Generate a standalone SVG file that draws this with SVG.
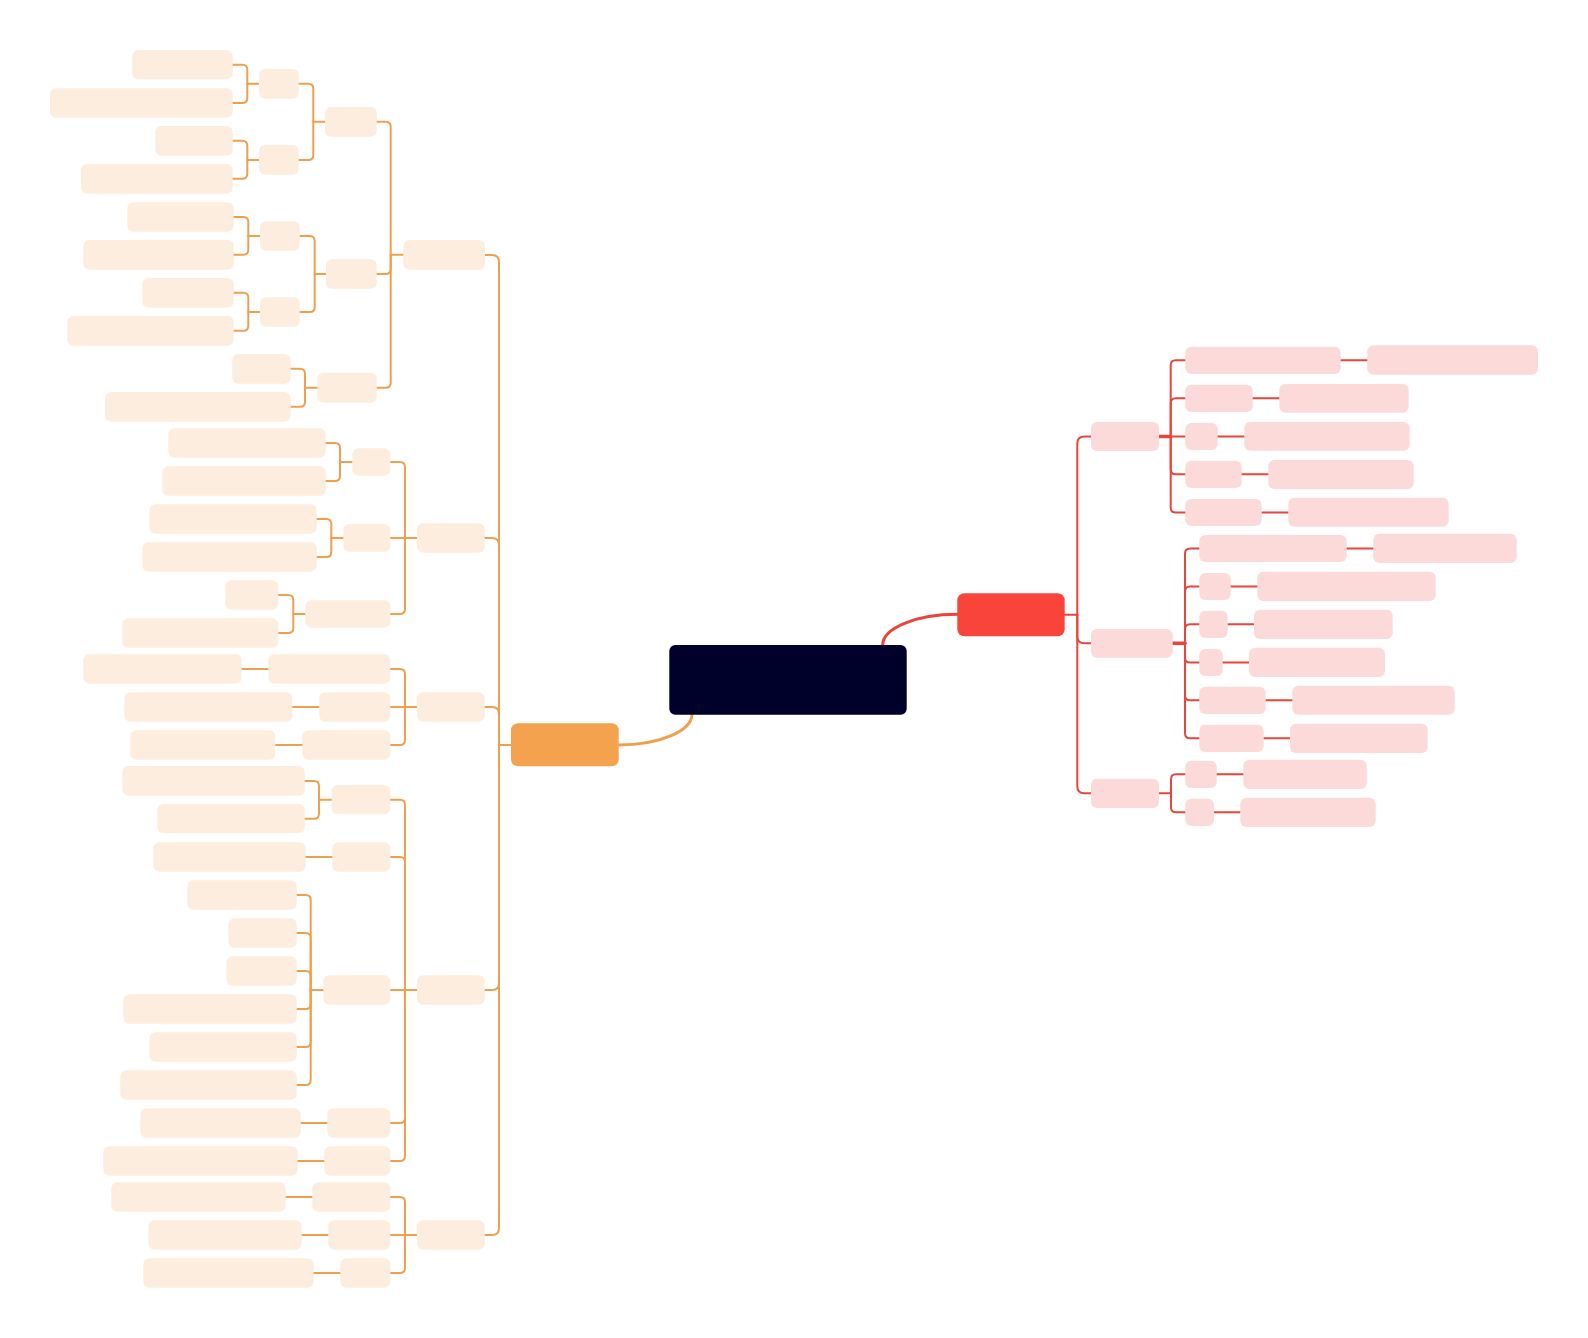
<svg xmlns="http://www.w3.org/2000/svg" width="1588" height="1338" viewBox="0 0 1588 1338">
<style>
.lo{fill:#FDEDDE}
.lp{fill:#FDDADA}
.co{fill:none;stroke:#EFA04F;stroke-width:2;stroke-linecap:round}
.cr{fill:none;stroke:#E8453C;stroke-width:2;stroke-linecap:round}
.thick{stroke-width:3.5}
.main{stroke-width:3}
</style>
<rect width="1588" height="1338" fill="#FFFFFF"/>
<g id="connectors">
<g id="conn-orange" class="co">
<path class="main" d="M619,745 A73,31 0 0 0 692,714"/>
<path d="M511,745 H499"/>
<path d="M499,745 V262 Q499,255 492,255 H485"/>
<path d="M499,745 V545 Q499,538 492,538 H485"/>
<path d="M499,745 V714 Q499,707 492,707 H485"/>
<path d="M499,745 V983 Q499,990 492,990 H485"/>
<path d="M499,745 V1228 Q499,1235 492,1235 H485"/>
<path d="M403.3,254.8 H390.7"/>
<path d="M390.7,254.8 V126.7 Q390.7,121.7 385.7,121.7 H376.7"/>
<path d="M390.7,254.8 V269 Q390.7,274 385.7,274 H376.7"/>
<path d="M390.7,254.8 V382.7 Q390.7,387.7 385.7,387.7 H376.7"/>
<path d="M325,121.7 H313.3"/>
<path d="M313.3,121.7 V88.8 Q313.3,83.8 308.3,83.8 H298.7"/>
<path d="M313.3,121.7 V155 Q313.3,160 308.3,160 H298.7"/>
<path d="M259,83.8 H247.3"/>
<path d="M247.3,83.8 V69.7 Q247.3,64.7 242.3,64.7 H232.7"/>
<path d="M247.3,83.8 V98 Q247.3,103 242.3,103 H232.7"/>
<path d="M259,160 H247.3"/>
<path d="M247.3,160 V145.8 Q247.3,140.8 242.3,140.8 H232.7"/>
<path d="M247.3,160 V173.8 Q247.3,178.8 242.3,178.8 H232.7"/>
<path d="M326,274 H314.7"/>
<path d="M314.7,274 V241 Q314.7,236 309.7,236 H299.7"/>
<path d="M314.7,274 V307 Q314.7,312 309.7,312 H299.7"/>
<path d="M260,236 H248.3"/>
<path d="M248.3,236 V222 Q248.3,217 243.3,217 H233.7"/>
<path d="M248.3,236 V249.8 Q248.3,254.8 243.3,254.8 H233.7"/>
<path d="M260,312 H248.3"/>
<path d="M248.3,312 V297.8 Q248.3,292.8 243.3,292.8 H233.7"/>
<path d="M248.3,312 V325.8 Q248.3,330.8 243.3,330.8 H233.7"/>
<path d="M317.3,387.7 H305"/>
<path d="M305,387.7 V373.8 Q305,368.8 300,368.8 H290.7"/>
<path d="M305,387.7 V401.8 Q305,406.8 300,406.8 H290.7"/>
<path d="M417,538 H405"/>
<path d="M405,538 V467 Q405,462 400,462 H390.3"/>
<path d="M405,538 H390.3"/>
<path d="M405,538 V609 Q405,614 400,614 H390.3"/>
<path d="M352.3,462 H340"/>
<path d="M340,462 V448 Q340,443 335,443 H325.7"/>
<path d="M340,462 V476 Q340,481 335,481 H325.7"/>
<path d="M343.3,538 H331.3"/>
<path d="M331.3,538 V524 Q331.3,519 326.3,519 H316.7"/>
<path d="M331.3,538 V552 Q331.3,557 326.3,557 H316.7"/>
<path d="M305.3,614 H293.3"/>
<path d="M293.3,614 V600 Q293.3,595 288.3,595 H278.3"/>
<path d="M293.3,614 V628 Q293.3,633 288.3,633 H278.3"/>
<path d="M417,707 H405"/>
<path d="M405,707 V674 Q405,669 400,669 H390.3"/>
<path d="M405,707 H390.3"/>
<path d="M405,707 V740 Q405,745 400,745 H390.3"/>
<path d="M268.3,669 H241.7"/>
<path d="M319.3,707 H292.3"/>
<path d="M302.3,745 H275.3"/>
<path d="M417,990 H405"/>
<path d="M405,990 V804.7 Q405,799.7 400,799.7 H390.3"/>
<path d="M405,990 V862 Q405,857 400,857 H390.3"/>
<path d="M405,990 H390.3"/>
<path d="M405,990 V1118 Q405,1123 400,1123 H390.3"/>
<path d="M405,990 V1156 Q405,1161 400,1161 H390.3"/>
<path d="M331.7,799.7 H319"/>
<path d="M319,799.7 V786 Q319,781 314,781 H304.7"/>
<path d="M319,799.7 V813.7 Q319,818.7 314,818.7 H304.7"/>
<path d="M332.3,857 H305.7"/>
<path d="M323.3,990 H310.7"/>
<path d="M310.7,990 V900 Q310.7,895 305.7,895 H296.7"/>
<path d="M310.7,990 V938 Q310.7,933 305.7,933 H296.7"/>
<path d="M310.7,990 V976 Q310.7,971 305.7,971 H296.7"/>
<path d="M310.7,990 V1004 Q310.7,1009 305.7,1009 H296.7"/>
<path d="M310.7,990 V1042 Q310.7,1047 305.7,1047 H296.7"/>
<path d="M310.7,990 V1080 Q310.7,1085 305.7,1085 H296.7"/>
<path d="M327.3,1123 H300.7"/>
<path d="M324.3,1161 H297.7"/>
<path d="M417,1235 H405"/>
<path d="M405,1235 V1202 Q405,1197 400,1197 H390.3"/>
<path d="M405,1235 H390.3"/>
<path d="M405,1235 V1268 Q405,1273 400,1273 H390.3"/>
<path d="M312.3,1197 H285.7"/>
<path d="M328.3,1235 H301.7"/>
<path d="M340.3,1273 H313.7"/>
</g>
<g id="conn-red" class="cr">
<path class="main" d="M882.7,645 A74.6,30.7 0 0 1 957.3,614.3"/>
<path d="M1064.7,614.8 H1077.3"/>
<path d="M1077.3,614.8 V443.5 Q1077.3,436.5 1084.3,436.5 H1091"/>
<path d="M1077.3,614.8 V636.3 Q1077.3,643.3 1084.3,643.3 H1091"/>
<path d="M1077.3,614.8 V786.3 Q1077.3,793.3 1084.3,793.3 H1091"/>
<path class="thick" d="M1159,436.5 H1170.7"/>
<path d="M1170.7,436.5 V365.3 Q1170.7,360.3 1175.7,360.3 H1185.3"/>
<path d="M1170.7,436.5 V403.3 Q1170.7,398.3 1175.7,398.3 H1185.3"/>
<path d="M1170.7,436.5 H1185.3"/>
<path d="M1170.7,436.5 V469.3 Q1170.7,474.3 1175.7,474.3 H1185.3"/>
<path d="M1170.7,436.5 V507.5 Q1170.7,512.5 1175.7,512.5 H1185.3"/>
<path d="M1340.7,360.3 H1367.3"/>
<path d="M1252.7,398.3 H1279.3"/>
<path d="M1217.7,436.5 H1244.3"/>
<path d="M1241.7,474.3 H1268.3"/>
<path d="M1261.7,512.5 H1288.3"/>
<path class="thick" d="M1172.7,643.3 H1185"/>
<path d="M1185,643.3 V553.5 Q1185,548.5 1190,548.5 H1199.3"/>
<path d="M1185,643.3 V591.5 Q1185,586.5 1190,586.5 H1199.3"/>
<path d="M1185,643.3 V629.3 Q1185,624.3 1190,624.3 H1199.3"/>
<path d="M1185,643.3 V657.5 Q1185,662.5 1190,662.5 H1199.3"/>
<path d="M1185,643.3 V695.3 Q1185,700.3 1190,700.3 H1199.3"/>
<path d="M1185,643.3 V733.3 Q1185,738.3 1190,738.3 H1199.3"/>
<path d="M1346.7,548.5 H1373.3"/>
<path d="M1230.7,586.5 H1257.3"/>
<path d="M1227.7,624.3 H1254"/>
<path d="M1222.7,662.5 H1249"/>
<path d="M1265.7,700.3 H1292.3"/>
<path d="M1263.7,738.3 H1290"/>
<path d="M1159,793.3 H1171"/>
<path d="M1171,793.3 V779.3 Q1171,774.3 1176,774.3 H1185.3"/>
<path d="M1171,793.3 V807.3 Q1171,812.3 1176,812.3 H1185.3"/>
<path d="M1216.7,774.3 H1243.3"/>
<path d="M1214,812.3 H1240.3"/>
</g>
</g>
<g id="nodes">
<g id="n-central"><rect x="669.3" y="645" width="237.4" height="69.7" rx="6" fill="#00012A"/></g>
<g id="n-orange"><rect x="511" y="723.3" width="107.7" height="43" rx="7" fill="#F4A24D"/></g>
<g id="n-red"><rect x="957.3" y="593.3" width="107.4" height="43" rx="7" fill="#F9443B"/></g>
<g id="n-a1"><rect class="lo" x="132.3" y="50" width="100.4" height="29.3" rx="6"/></g>
<g id="n-a2"><rect class="lo" x="50" y="88.3" width="182.7" height="29.4" rx="6"/></g>
<g id="n-a3"><rect class="lo" x="155.3" y="126" width="77.4" height="29.7" rx="6"/></g>
<g id="n-a4"><rect class="lo" x="81" y="164" width="151.7" height="29.7" rx="6"/></g>
<g id="n-b1"><rect class="lo" x="259" y="69" width="39.7" height="29.7" rx="6"/></g>
<g id="n-b2"><rect class="lo" x="259" y="145" width="39.7" height="29.7" rx="6"/></g>
<g id="n-c1"><rect class="lo" x="325" y="106.7" width="51.7" height="30" rx="6"/></g>
<g id="n-a5"><rect class="lo" x="127.3" y="202.3" width="106.4" height="29.4" rx="6"/></g>
<g id="n-a6"><rect class="lo" x="83.3" y="240" width="150.4" height="29.7" rx="6"/></g>
<g id="n-a7"><rect class="lo" x="142.3" y="278" width="91.4" height="29.7" rx="6"/></g>
<g id="n-a8"><rect class="lo" x="67.3" y="316" width="166.4" height="29.7" rx="6"/></g>
<g id="n-b3"><rect class="lo" x="260" y="221.3" width="39.7" height="29.4" rx="6"/></g>
<g id="n-b4"><rect class="lo" x="260" y="297.3" width="39.7" height="29.4" rx="6"/></g>
<g id="n-c2"><rect class="lo" x="326" y="259.3" width="50.7" height="29.4" rx="6"/></g>
<g id="n-d1"><rect class="lo" x="403.3" y="240" width="81.7" height="29.7" rx="6"/></g>
<g id="n-a9"><rect class="lo" x="232.3" y="354" width="58.4" height="29.7" rx="6"/></g>
<g id="n-a10"><rect class="lo" x="105" y="392" width="185.7" height="29.7" rx="6"/></g>
<g id="n-c3"><rect class="lo" x="317.3" y="372.7" width="59.4" height="30" rx="6"/></g>
<g id="n-e1"><rect class="lo" x="168.3" y="428.3" width="157.4" height="29.4" rx="6"/></g>
<g id="n-e2"><rect class="lo" x="162.3" y="466.3" width="163.4" height="29.4" rx="6"/></g>
<g id="n-f1"><rect class="lo" x="352.3" y="448.3" width="38" height="27.4" rx="6"/></g>
<g id="n-e3"><rect class="lo" x="149.3" y="504.3" width="167.4" height="29.4" rx="6"/></g>
<g id="n-e4"><rect class="lo" x="142.3" y="542.3" width="174.4" height="29.4" rx="6"/></g>
<g id="n-f2"><rect class="lo" x="343.3" y="524" width="47" height="27.7" rx="6"/></g>
<g id="n-e5"><rect class="lo" x="225.3" y="580.3" width="53" height="29.4" rx="6"/></g>
<g id="n-e6"><rect class="lo" x="122.3" y="618.3" width="156" height="29.4" rx="6"/></g>
<g id="n-f3"><rect class="lo" x="305.3" y="600.3" width="85" height="27.4" rx="6"/></g>
<g id="n-d2"><rect class="lo" x="417" y="523.3" width="67.7" height="29.4" rx="6"/></g>
<g id="n-g1"><rect class="lo" x="83.3" y="654.3" width="158.4" height="29.4" rx="6"/></g>
<g id="n-h1"><rect class="lo" x="268.3" y="654.3" width="122" height="29.4" rx="6"/></g>
<g id="n-g2"><rect class="lo" x="124.3" y="692.3" width="168" height="29.4" rx="6"/></g>
<g id="n-h2"><rect class="lo" x="319.3" y="692.3" width="71" height="29.4" rx="6"/></g>
<g id="n-g3"><rect class="lo" x="130.3" y="730.3" width="145" height="29.4" rx="6"/></g>
<g id="n-h3"><rect class="lo" x="302.3" y="730.3" width="88" height="29.4" rx="6"/></g>
<g id="n-d3"><rect class="lo" x="417" y="692.3" width="67.7" height="29.4" rx="6"/></g>
<g id="n-i1"><rect class="lo" x="122.3" y="766" width="182.4" height="29.7" rx="6"/></g>
<g id="n-i2"><rect class="lo" x="157.3" y="804" width="147.4" height="29.3" rx="6"/></g>
<g id="n-j1"><rect class="lo" x="331.7" y="785" width="58.6" height="29.3" rx="6"/></g>
<g id="n-i3"><rect class="lo" x="153.3" y="842.3" width="152.4" height="29.4" rx="6"/></g>
<g id="n-j2"><rect class="lo" x="332.3" y="842.3" width="58" height="29.4" rx="6"/></g>
<g id="n-k1"><rect class="lo" x="187.3" y="880.3" width="109.4" height="29.4" rx="6"/></g>
<g id="n-k2"><rect class="lo" x="228.3" y="918.3" width="68.4" height="29.4" rx="6"/></g>
<g id="n-k3"><rect class="lo" x="226.3" y="956.3" width="70.4" height="29.4" rx="6"/></g>
<g id="n-k4"><rect class="lo" x="123.3" y="994.3" width="173.4" height="29.4" rx="6"/></g>
<g id="n-k5"><rect class="lo" x="149.3" y="1032.3" width="147.4" height="29.4" rx="6"/></g>
<g id="n-k6"><rect class="lo" x="120.3" y="1070.3" width="176.4" height="29.4" rx="6"/></g>
<g id="n-j3"><rect class="lo" x="323.3" y="975.3" width="67" height="29.4" rx="6"/></g>
<g id="n-d4"><rect class="lo" x="417" y="975.3" width="67.7" height="29.4" rx="6"/></g>
<g id="n-l1"><rect class="lo" x="140.3" y="1108.3" width="160.4" height="29.4" rx="6"/></g>
<g id="n-j4"><rect class="lo" x="327.3" y="1108.3" width="63" height="29.4" rx="6"/></g>
<g id="n-l2"><rect class="lo" x="103.3" y="1146.3" width="194.4" height="29.4" rx="6"/></g>
<g id="n-j5"><rect class="lo" x="324.3" y="1146.3" width="66" height="29.4" rx="6"/></g>
<g id="n-m1"><rect class="lo" x="111.3" y="1182.3" width="174.4" height="29.4" rx="6"/></g>
<g id="n-n1"><rect class="lo" x="312.3" y="1182.3" width="78" height="29.4" rx="6"/></g>
<g id="n-m2"><rect class="lo" x="148.3" y="1220.3" width="153.4" height="29.4" rx="6"/></g>
<g id="n-n2"><rect class="lo" x="328.3" y="1220.3" width="62" height="29.4" rx="6"/></g>
<g id="n-m3"><rect class="lo" x="143.3" y="1258.3" width="170.4" height="29.4" rx="6"/></g>
<g id="n-n3"><rect class="lo" x="340.3" y="1258.3" width="50" height="29.4" rx="6"/></g>
<g id="n-d5"><rect class="lo" x="417" y="1220.3" width="67.7" height="29.4" rx="6"/></g>
<g id="n-r1"><rect class="lp" x="1091" y="422" width="68" height="29" rx="6"/></g>
<g id="n-r2"><rect class="lp" x="1091" y="629" width="81.7" height="28.7" rx="6"/></g>
<g id="n-r3"><rect class="lp" x="1091" y="778.7" width="68" height="29.3" rx="6"/></g>
<g id="n-s1"><rect class="lp" x="1185.3" y="346.7" width="155.4" height="27.3" rx="6"/></g>
<g id="n-t1"><rect class="lp" x="1367.3" y="345.3" width="170.7" height="29.4" rx="6"/></g>
<g id="n-s2"><rect class="lp" x="1185.3" y="384.7" width="67.4" height="27.3" rx="6"/></g>
<g id="n-t2"><rect class="lp" x="1279.3" y="384" width="129.4" height="28.7" rx="6"/></g>
<g id="n-s3"><rect class="lp" x="1185.3" y="423" width="32.4" height="27" rx="6"/></g>
<g id="n-t3"><rect class="lp" x="1244.3" y="422" width="165.4" height="28.7" rx="6"/></g>
<g id="n-s4"><rect class="lp" x="1185.3" y="460.7" width="56.4" height="27.3" rx="6"/></g>
<g id="n-t4"><rect class="lp" x="1268.3" y="460" width="145.4" height="29" rx="6"/></g>
<g id="n-s5"><rect class="lp" x="1185.3" y="499" width="76.4" height="27" rx="6"/></g>
<g id="n-t5"><rect class="lp" x="1288.3" y="497.7" width="160.4" height="29" rx="6"/></g>
<g id="n-u1"><rect class="lp" x="1199.3" y="535" width="147.4" height="27" rx="6"/></g>
<g id="n-v1"><rect class="lp" x="1373.3" y="533.7" width="143.4" height="29.3" rx="6"/></g>
<g id="n-u2"><rect class="lp" x="1199.3" y="573" width="31.4" height="27" rx="6"/></g>
<g id="n-v2"><rect class="lp" x="1257.3" y="571.7" width="178.4" height="29.3" rx="6"/></g>
<g id="n-u3"><rect class="lp" x="1199.3" y="610.7" width="28.4" height="27.3" rx="6"/></g>
<g id="n-v3"><rect class="lp" x="1254" y="609.7" width="138.7" height="29.3" rx="6"/></g>
<g id="n-u4"><rect class="lp" x="1199.3" y="649" width="23.4" height="27" rx="6"/></g>
<g id="n-v4"><rect class="lp" x="1249" y="647.7" width="136" height="29.3" rx="6"/></g>
<g id="n-u5"><rect class="lp" x="1199.3" y="686.7" width="66.4" height="27.3" rx="6"/></g>
<g id="n-v5"><rect class="lp" x="1292.3" y="685.7" width="162.4" height="29" rx="6"/></g>
<g id="n-u6"><rect class="lp" x="1199.3" y="724.7" width="64.4" height="27.3" rx="6"/></g>
<g id="n-v6"><rect class="lp" x="1290" y="723.7" width="137.7" height="29.3" rx="6"/></g>
<g id="n-w1"><rect class="lp" x="1185.3" y="760.7" width="31.4" height="27.3" rx="6"/></g>
<g id="n-x1"><rect class="lp" x="1243.3" y="759.7" width="123.4" height="29.3" rx="6"/></g>
<g id="n-w2"><rect class="lp" x="1185.3" y="798.7" width="28.7" height="27.3" rx="6"/></g>
<g id="n-x2"><rect class="lp" x="1240.3" y="797.7" width="135.4" height="29.3" rx="6"/></g>
</g>
</svg>
